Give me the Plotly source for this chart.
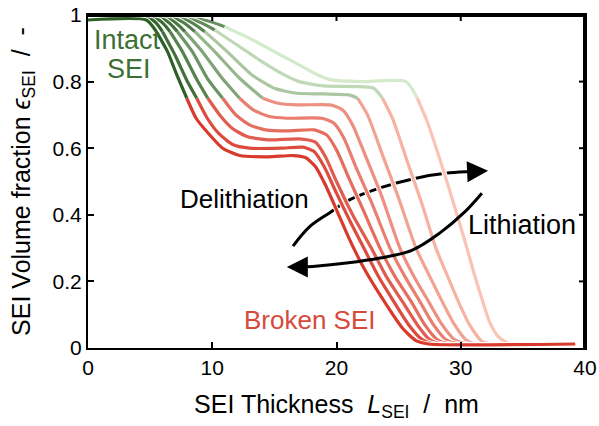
import plotly.graph_objects as go

# ---------------- data ----------------
x_c0 = [0, 4.7, 5.5, 6.4, 7.15, 7.95, 8.7, 9.56, 10.84, 12.2, 14.5, 16.5, 17.5, 18.3, 19.1, 20.0, 21.0, 22.1, 23.7, 25.3, 26.4, 27.4, 39.2]
y_c0 = [0.985, 0.985, 0.95, 0.89, 0.82, 0.75, 0.69, 0.65, 0.60, 0.578, 0.574, 0.578, 0.572, 0.545, 0.49, 0.415, 0.33, 0.247, 0.148, 0.06, 0.022, 0.012, 0.012]

x_c1 = [0, 5.2, 6.0, 7.0, 8.0, 8.75, 9.6, 10.5, 11.6, 13.0, 15.5, 17.3, 18.2, 19.0, 20.0, 21.1, 22.2, 23.3, 24.6, 25.8, 26.9, 27.9, 39.2]
y_c1 = [0.985, 0.985, 0.95, 0.88, 0.80, 0.75, 0.69, 0.645, 0.612, 0.60, 0.60, 0.603, 0.59, 0.545, 0.465, 0.38, 0.30, 0.22, 0.14, 0.07, 0.025, 0.012, 0.012]

x_c2 = [0, 5.7, 6.6, 7.6, 8.7, 9.64, 10.6, 11.6, 12.8, 14.5, 17.0, 18.3, 19.1, 20.0, 21.3, 22.8, 24.0, 25.3, 26.5, 27.5, 28.5, 39.2]
y_c2 = [0.985, 0.985, 0.95, 0.89, 0.81, 0.75, 0.70, 0.66, 0.635, 0.625, 0.628, 0.618, 0.575, 0.50, 0.40, 0.30, 0.215, 0.14, 0.07, 0.025, 0.012, 0.012]

x_c3 = [0, 6.2, 7.2, 8.4, 9.6, 10.84, 11.9, 13.0, 14.3, 16.0, 18.2, 19.2, 20.0, 21.0, 22.2, 23.5, 24.7, 26.0, 27.1, 28.1, 29.1, 39.2]
y_c3 = [0.985, 0.985, 0.95, 0.89, 0.81, 0.75, 0.70, 0.67, 0.655, 0.652, 0.655, 0.64, 0.595, 0.51, 0.41, 0.30, 0.215, 0.14, 0.07, 0.025, 0.012, 0.012]

x_c4 = [0, 6.7, 7.8, 9.2, 10.8, 12.2, 13.3, 14.6, 16.0, 18.8, 19.8, 20.6, 21.6, 22.9, 24.3, 25.5, 26.7, 27.8, 28.8, 29.8, 39.2]
y_c4 = [0.985, 0.985, 0.95, 0.89, 0.81, 0.75, 0.715, 0.695, 0.69, 0.69, 0.675, 0.63, 0.54, 0.43, 0.30, 0.215, 0.14, 0.07, 0.025, 0.012, 0.012]

x_c5 = [0, 7.3, 8.6, 10.2, 12.2, 14.06, 15.3, 16.8, 19.5, 20.5, 21.3, 22.3, 23.6, 25.1, 26.3, 27.4, 28.5, 29.5, 30.5, 39.2]
y_c5 = [0.985, 0.985, 0.95, 0.89, 0.81, 0.75, 0.735, 0.73, 0.73, 0.715, 0.67, 0.58, 0.46, 0.30, 0.21, 0.14, 0.07, 0.025, 0.012, 0.012]

x_c6 = [0, 7.9, 9.4, 11.2, 13.2, 15.0, 16.8, 19.0, 21.0, 21.7, 22.5, 23.7, 25.0, 26.4, 27.5, 28.5, 29.5, 30.4, 31.2, 39.2]
y_c6 = [0.985, 0.985, 0.95, 0.89, 0.82, 0.78, 0.765, 0.763, 0.76, 0.75, 0.70, 0.58, 0.45, 0.30, 0.215, 0.14, 0.07, 0.025, 0.012, 0.012]

x_c7 = [0, 8.5, 10.2, 12.0, 14.0, 15.8, 17.0, 19.0, 21.5, 23.0, 23.7, 24.5, 25.7, 26.9, 28.0, 29.0, 29.8, 30.7, 31.7, 32.5, 39.2]
y_c7 = [0.985, 0.985, 0.955, 0.91, 0.86, 0.82, 0.80, 0.787, 0.785, 0.78, 0.75, 0.69, 0.56, 0.43, 0.30, 0.21, 0.14, 0.07, 0.02, 0.012, 0.012]

x_c8 = [0, 9.3, 11.0, 13.0, 15.0, 17.0, 18.5, 19.6, 22.0, 25.6, 26.5, 27.3, 28.8, 29.7, 30.5, 31.1, 31.7, 32.3, 33.0, 33.9, 39.2]
y_c8 = [0.985, 0.985, 0.965, 0.93, 0.89, 0.85, 0.82, 0.805, 0.80, 0.80, 0.75, 0.68, 0.51, 0.40, 0.30, 0.22, 0.148, 0.08, 0.035, 0.013, 0.012]

x_ticks = [0, 10, 20, 30, 40]
y_ticks = [0, 0.2, 0.4, 0.6, 0.8, 1]
y_tick_text = ["0", "0.2", "0.4", "0.6", "0.8", "1"]

# arrow paths (annotation geometry)
arrow_up_x = [16.5, 17.8, 19.4, 21.0, 23.7, 26.4, 29.1, 31.0]
arrow_up_y = [0.306, 0.363, 0.405, 0.444, 0.483, 0.510, 0.526, 0.530]
arrow_dn_x = [31.7, 30.3, 28.3, 26.1, 23.5, 20.8, 18.1, 17.2]
arrow_dn_y = [0.465, 0.408, 0.345, 0.294, 0.270, 0.255, 0.245, 0.243]

# ---------------- styling ----------------
curves = [(x_c0, y_c0), (x_c1, y_c1), (x_c2, y_c2), (x_c3, y_c3), (x_c4, y_c4),
          (x_c5, y_c5), (x_c6, y_c6), (x_c7, y_c7), (x_c8, y_c8)]
n = len(curves)
DARK_G = (45, 95, 38)
LIGHT_G = (212, 234, 202)
DARK_R = (216, 58, 44)
LIGHT_R = (250, 196, 180)
THRESH = 0.75
LW = 3.2
SMOOTH = 0.6
FONT = "Liberation Sans, Arial, sans-serif"
X_RANGE = [0, 40]
Y_RANGE = [0, 1]
PLOT_H = 426 - 15 - 78
PLOT_W = 599 - 88 - 14
TICK_LEN = 6


def rgb(c):
    return "rgb(%d,%d,%d)" % tuple(round(v) for v in c)


def mix(a, b, t):
    return tuple(a[k] + (b[k] - a[k]) * t for k in range(3))


fig = go.Figure()

# upper arrow body (drawn beneath the curves)
fig.add_trace(go.Scatter(x=arrow_up_x, y=arrow_up_y, mode="lines",
                         line=dict(color="black", width=3, shape="spline"),
                         hoverinfo="skip"))

for i in reversed(range(n)):
    xs, ys = curves[i]
    t = i / (n - 1)
    g = mix(DARK_G, LIGHT_G, t)
    col_top = rgb(mix(DARK_G, g, 0.35))
    col_g = rgb(g)
    col_r = rgb(mix(DARK_R, LIGHT_R, t))
    kt = next(k for k, v in enumerate(ys) if k > 1 and v <= THRESH)
    fig.add_trace(go.Scatter(x=xs, y=ys, mode="lines",
                             line=dict(color="white", width=LW + 2, shape="spline", smoothing=SMOOTH),
                             hoverinfo="skip"))
    segs = [(0, 2, col_top), (2, kt, col_g), (kt, len(xs) - 1, col_r)]
    for a, b, c in segs:
        fig.add_trace(go.Scatter(x=xs[a:b + 1], y=ys[a:b + 1], mode="lines",
                                 line=dict(color=c, width=LW, shape="spline", smoothing=SMOOTH),
                                 hoverinfo="skip"))

# lower arrow body (drawn above the curves)
fig.add_trace(go.Scatter(x=arrow_dn_x, y=arrow_dn_y, mode="lines",
                         line=dict(color="black", width=3, shape="spline"),
                         hoverinfo="skip"))

# top and right frame edges as a trace (half of the 4px line is clipped -> 2px visible)
fig.add_trace(go.Scatter(x=[X_RANGE[0], X_RANGE[1], X_RANGE[1]],
                         y=[Y_RANGE[1], Y_RANGE[1], Y_RANGE[0]], mode="lines",
                         line=dict(color="black", width=4), hoverinfo="skip"))

# mirrored inside ticks on the top and right edges
dx = (X_RANGE[1] - X_RANGE[0]) * TICK_LEN / PLOT_W
dy = (Y_RANGE[1] - Y_RANGE[0]) * TICK_LEN / PLOT_H
tx, ty = [], []
for xv in x_ticks[1:-1]:
    tx += [xv, xv, None]
    ty += [Y_RANGE[1], Y_RANGE[1] - dy, None]
fig.add_trace(go.Scatter(x=tx, y=ty, mode="lines", line=dict(color="black", width=2),
                         hoverinfo="skip"))
rx, ry = [], []
for yv in y_ticks[1:-1]:
    rx += [X_RANGE[1], X_RANGE[1] - dx, None]
    ry += [yv, yv, None]
fig.add_trace(go.Scatter(x=rx, y=ry, mode="lines", line=dict(color="black", width=2),
                         hoverinfo="skip"))

ann_font = dict(family=FONT, size=26)
annotations = [
    dict(x=32.2, y=0.532, ax=arrow_up_x[-1], ay=arrow_up_y[-1], axref="x", ayref="y",
         xref="x", yref="y", text="", showarrow=True, arrowhead=2, arrowsize=1.4,
         arrowwidth=3, arrowcolor="black"),
    dict(x=16.0, y=0.243, ax=arrow_dn_x[-1], ay=arrow_dn_y[-1], axref="x", ayref="y",
         xref="x", yref="y", text="", showarrow=True, arrowhead=2, arrowsize=1.4,
         arrowwidth=3, arrowcolor="black"),
    dict(x=12.6, y=0.447, text="Delithiation", showarrow=False, font=dict(ann_font, color="black")),
    dict(x=34.9, y=0.369, text="Lithiation", showarrow=False, font=dict(ann_font, size=27, color="black")),
    dict(x=17.9, y=0.084, text="Broken SEI", showarrow=False, font=dict(ann_font, color="rgb(214,74,60)")),
    dict(x=3.2, y=0.925, text="Intact", showarrow=False, font=dict(ann_font, size=27, color="rgb(62,112,52)")),
    dict(x=3.3, y=0.838, text="SEI", showarrow=False, font=dict(ann_font, size=27, color="rgb(62,112,52)")),
]

axis_common = dict(showline=True, linewidth=2, linecolor="black", mirror=True,
                   ticks="inside", ticklen=TICK_LEN, tickwidth=2, tickcolor="black",
                   showgrid=False, zeroline=False, automargin=False,
                   ticklabeloverflow="allow",
                   tickfont=dict(family=FONT, size=21, color="black"))

fig.update_layout(
    width=599, height=426,
    margin=dict(l=88, r=14, t=15, b=78),
    plot_bgcolor="white", paper_bgcolor="white",
    showlegend=False,
    font=dict(family=FONT, color="black"),
    annotations=annotations,
    xaxis=dict(axis_common, range=X_RANGE, tickvals=x_ticks,
               title=dict(text="SEI Thickness  <i>L</i><sub>SEI</sub>  /  nm",
                          font=dict(size=25), standoff=17)),
    yaxis=dict(axis_common, range=Y_RANGE, tickvals=y_ticks, ticktext=y_tick_text,
               title=dict(text="SEI Volume fraction <i>ϵ</i><sub>SEI</sub>  /  -",
                          font=dict(size=25), standoff=15)),
)

# remove the default page margin so the figure sits at the window's corner
fig.write_html("out.html", post_script="document.body.style.margin='0';",
               config={"displayModeBar": False})
